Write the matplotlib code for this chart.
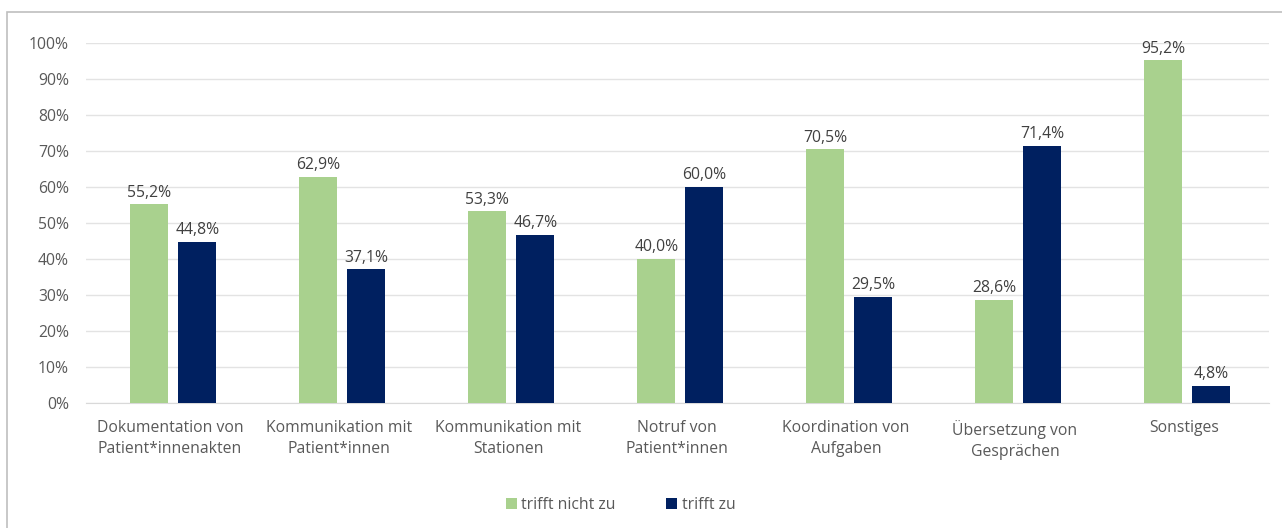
import numpy as np
import matplotlib.pyplot as plt
from matplotlib.patches import Rectangle

plt.rcParams['font.family'] = ['Open Sans', 'DejaVu Sans']

# Daten
kategorien = ["Dokumentation von\nPatient*innenakten", "Kommunikation mit\nPatient*innen",
              "Kommunikation mit\nStationen", "Notruf von\nPatient*innen",
              "Koordination von\nAufgaben", "Übersetzung von\nGesprächen", "Sonstiges"]
trifft_nicht_zu = [55.2, 62.9, 53.3, 40.0, 70.5, 28.6, 95.2]
trifft_zu = [44.8, 37.1, 46.7, 60.0, 29.5, 71.4, 4.8]
yticks = [0, 10, 20, 30, 40, 50, 60, 70, 80, 90, 100]

gruen = "#a9d18e"
blau = "#002060"
grau = "#595959"
fs = 11.3

fig = plt.figure(figsize=(12.82, 5.28), dpi=100)
fig.patches.append(Rectangle((7 / 1282, -0.1), 1.2, 1 - 12 / 528 + 0.1, transform=fig.transFigure,
                             fill=False, edgecolor="#bfbfbf", linewidth=1.2))
ax = fig.add_axes([0.0667, 0.2367, 0.9228, 0.6819])

x = np.arange(len(kategorien))
w = 0.225
b1 = ax.bar(x - 0.142 + 0.02, trifft_nicht_zu, w, color=gruen, label="trifft nicht zu", zorder=3)
b2 = ax.bar(x + 0.142 + 0.02, trifft_zu, w, color=blau, label="trifft zu", zorder=3)

for bars, vals in ((b1, trifft_nicht_zu), (b2, trifft_zu)):
    for r, v in zip(bars, vals):
        ax.text(r.get_x() + r.get_width() / 2, v + 1.0, f"{v:.1f}%".replace(".", ","),
                ha="center", va="bottom", fontsize=fs, color="#404040")

ax.set_xlim(-0.5, len(kategorien) - 0.5)
ax.set_ylim(0, 100)
ax.set_yticks(yticks)
ax.set_yticklabels([f"{t}%" for t in yticks], fontsize=fs, color=grau)
ax.set_xticks(x)
ax.set_xticklabels(kategorien, fontsize=fs, color=grau, linespacing=1.45)
ax.tick_params(length=0, pad=12)
ax.tick_params(axis="x", pad=12)
ax.grid(axis="y", color="#e3e3e3", linewidth=1, zorder=0)
for s in ["top", "right", "left"]:
    ax.spines[s].set_visible(False)
ax.spines["bottom"].set_color("#d9d9d9")

fig.legend(loc="center", bbox_to_anchor=(0.484, 0.043), ncol=2, frameon=False,
           fontsize=fs, labelcolor=grau, handlelength=0.7, handleheight=0.7,
           handletextpad=0.3, columnspacing=3.2)

fig.savefig("out.png", dpi=100)
